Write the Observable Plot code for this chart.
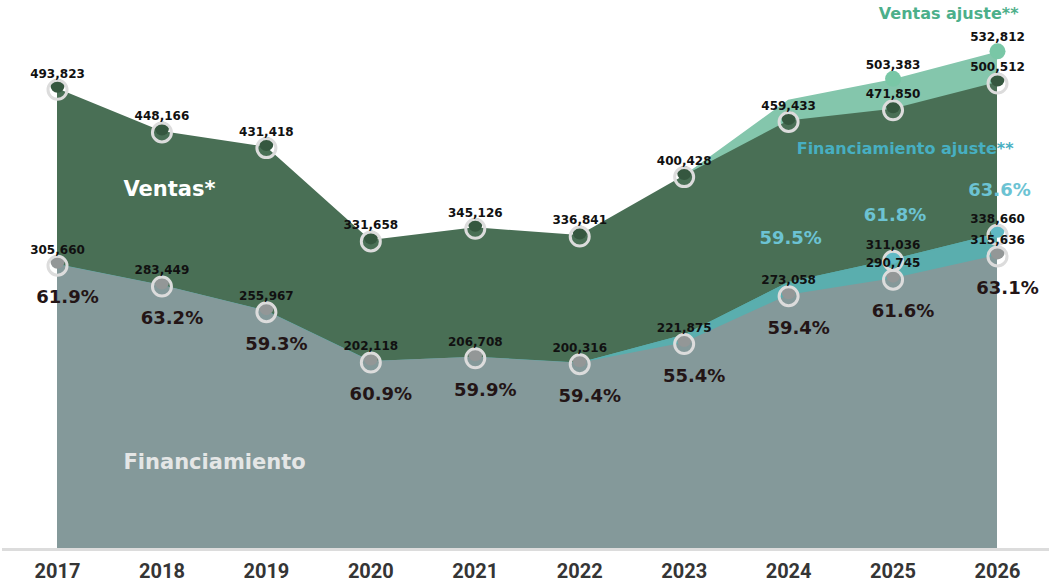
<!DOCTYPE html>
<html>
<head>
<meta charset="utf-8">
<script src="https://cdn.jsdelivr.net/npm/d3@7"></script>
<script src="https://cdn.jsdelivr.net/npm/@observablehq/plot@0.6"></script>
<style>
  html, body { margin: 0; padding: 0; background: #ffffff; }
  #chart svg { display: block; }
</style>
</head>
<body>
<div id="chart"></div>
<script>
const years = [2017, 2018, 2019, 2020, 2021, 2022, 2023, 2024, 2025, 2026];
const ventas = [493823, 448166, 431418, 331658, 345126, 336841, 400428, 459433, 471850, 500512];
const financiamiento = [305660, 283449, 255967, 202118, 206708, 200316, 221875, 273058, 290745, 315636];
const ventasAjuste = [null, null, null, null, null, null, 400428, 481500, 503383, 532812];
const financiamientoAjuste = [305660, 283449, 255967, 202118, 206708, 200316, 230300, 286500, 311036, 338660];
const pctFinanciamiento = [61.9, 63.2, 59.3, 60.9, 59.9, 59.4, 55.4, 59.4, 61.6, 63.1];
const pctAjuste = [null, null, null, null, null, null, null, 59.5, 61.8, 63.6];
const aniosAjusteEtiquetados = [2025, 2026];
const aniosAjusteArea = [2022, 2023, 2024, 2025, 2026];

const data = years.map((year, i) => ({
  year,
  ventas: ventas[i],
  fin: financiamiento[i],
  ventasAj: ventasAjuste[i],
  finAj: financiamientoAjuste[i],
  pct: pctFinanciamiento[i],
  pctAj: pctAjuste[i]
}));
const dataVentasAj = data.filter(d => d.ventasAj != null);
const dataFinAj = data.filter(d => aniosAjusteArea.includes(d.year));
const dataAjLab = data.filter(d => aniosAjusteEtiquetados.includes(d.year));
const dataPctAj = data.filter(d => d.pctAj != null);

const fmt = d3.format(",");
const F = "DejaVu Sans";

const ringOpts = {r: 9.5, stroke: "#dcdcdc", strokeWidth: 3, fill: "none", dy: 1};
const dotOpts = {r: 7, dy: -3};
const valOpts = {lineAnchor: "middle", dy: -15, fontSize: 12, fontWeight: 700, fill: "#111", fontFamily: F};

const chart = Plot.plot({
  width: 1049,
  height: 582,
  marginLeft: 2,
  marginRight: 0,
  marginTop: 0,
  marginBottom: 32,
  x: {domain: [2016.4734, 2026.4979], axis: null},
  y: {domain: [0, 588235], axis: null},
  style: {fontFamily: F, background: "#ffffff"},
  marks: [
    Plot.areaY(dataVentasAj, {x: "year", y: "ventasAj", fill: "#84c6ac"}),
    Plot.areaY(data, {x: "year", y: "ventas", fill: "#496f55"}),
    Plot.areaY(dataFinAj, {x: "year", y: "finAj", fill: "#5aaeae"}),
    Plot.lineY(data, {x: "year", y: "finAj", stroke: "#5aaeae", strokeWidth: 1.2}),
    Plot.areaY(data, {x: "year", y: "fin", fill: "#84999a"}),
    Plot.ruleY([0], {stroke: "#dcdcdc", strokeWidth: 3, dy: -1}),
    Plot.axisX(years, {tickSize: 0, tickPadding: 13, tickFormat: d => String(d), fontSize: 20, fontFamily: "Roboto", fontWeight: 700, fill: "#353535", label: null}),

    // dots + rings
    Plot.dot(data, {x: "year", y: "ventas", ...dotOpts, fill: "#35573f"}),
    Plot.dot(data, {x: "year", y: "ventas", ...ringOpts}),
    Plot.dot(data, {x: "year", y: "fin", ...dotOpts, fill: "#939797"}),
    Plot.dot(data, {x: "year", y: "fin", ...ringOpts}),
    Plot.dot(dataAjLab, {x: "year", y: "finAj", ...dotOpts, fill: "#60b9c4"}),
    Plot.dot(dataAjLab, {x: "year", y: "finAj", ...ringOpts}),
    Plot.dot(dataAjLab, {x: "year", y: "ventasAj", r: 8, fill: "#79c7a6", dy: -1}),

    // value labels
    Plot.text(data, {x: "year", y: "ventas", text: d => fmt(d.ventas), ...valOpts}),
    Plot.text(data, {x: "year", y: "fin", text: d => fmt(d.fin), ...valOpts}),
    Plot.text(dataAjLab, {x: "year", y: "ventasAj", text: d => fmt(d.ventasAj), ...valOpts}),
    Plot.text(dataAjLab, {x: "year", y: "finAj", text: d => fmt(d.finAj), ...valOpts}),

    // percentages
    Plot.text(data, {x: "year", y: "fin", text: d => d.pct.toFixed(1) + "%", lineAnchor: "middle", dx: 10, dy: 33, fontSize: 18, fontWeight: 700, fill: "#231516"}),
    Plot.text(dataPctAj, {x: "year", y: "finAj", text: d => d.pctAj.toFixed(1) + "%", lineAnchor: "middle", dx: 2, dy: -44, fontSize: 18, fontWeight: 700, fill: "#6cc3d3"}),

    // series labels
    Plot.text(["Ventas*"], {frameAnchor: "top-left", text: d => d, textAnchor: "start", lineAnchor: "middle", dx: 121, dy: 189, fontSize: 21, fontWeight: 700, fill: "#ffffff"}),
    Plot.text(["Financiamiento"], {frameAnchor: "top-left", text: d => d, textAnchor: "start", lineAnchor: "middle", dx: 121, dy: 462, fontSize: 21, fontWeight: 700, fill: "#e4e6e6"}),
    Plot.text(["Financiamiento ajuste**"], {frameAnchor: "top-right", text: d => d, textAnchor: "end", lineAnchor: "middle", dx: -36, dy: 148, fontSize: 16, fontWeight: 700, fill: "#47afc2"}),
    Plot.text(["Ventas ajuste**"], {frameAnchor: "top-right", text: d => d, textAnchor: "end", lineAnchor: "middle", dx: -31, dy: 13, fontSize: 16, fontWeight: 700, fill: "#4caf8a"})
  ]
});
document.getElementById("chart").append(chart);
</script>
</body>
</html>
